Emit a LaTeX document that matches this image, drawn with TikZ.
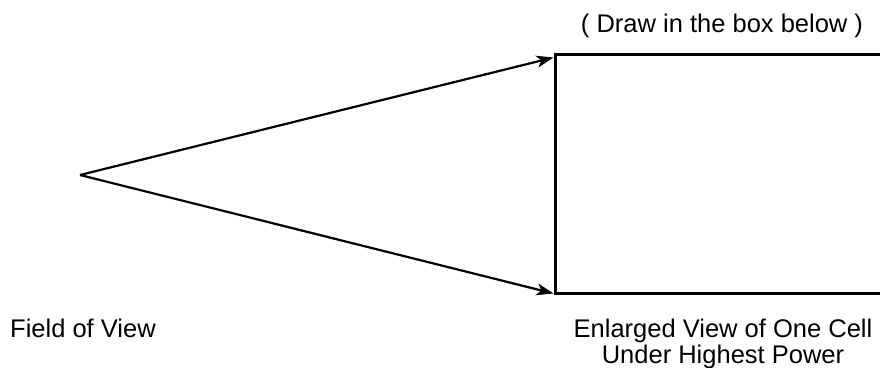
\documentclass[tikz,border=0pt]{standalone}
\usepackage{fontspec}
\setmainfont{Liberation Sans}
\usetikzlibrary{arrows.meta,positioning,calc}

\begin{document}
\begin{tikzpicture}[x=1pt,y=-1pt,
    lbl/.style={font=\fontsize{25.5}{25.5}\selectfont, inner sep=0pt, anchor=base},
    ray/.style={line width=2.2pt, -{Stealth[length=17pt,width=12pt,inset=4.5pt]}}]
  \useasboundingbox (0,0) rectangle (880,367); % page frame
  \coordinate (apex) at (80,175); % eye point of the field of view
  \node[draw, line width=3pt, inner sep=0pt, outer sep=0pt,
        minimum width=345pt, minimum height=239pt] (box) at (727.5,174) {}; % drawing box (runs off the right edge)
  \draw[ray] (apex) -- ([xshift=-1.5pt,yshift=-3pt]box.north west); % upper ray
  \draw[ray] (apex) -- ([xshift=-1.5pt]box.south west); % lower ray
  \node[lbl] (hint) at (722,32) {( Draw in the box below )}; % note above the box
  \node[lbl, anchor=base west] (fov) at (10,337) {Field of View}; % left caption
  \node[lbl, align=center] (cell) at (723,363) {Enlarged View of One Cell\\Under Highest Power}; % box caption
\end{tikzpicture}
\end{document}
